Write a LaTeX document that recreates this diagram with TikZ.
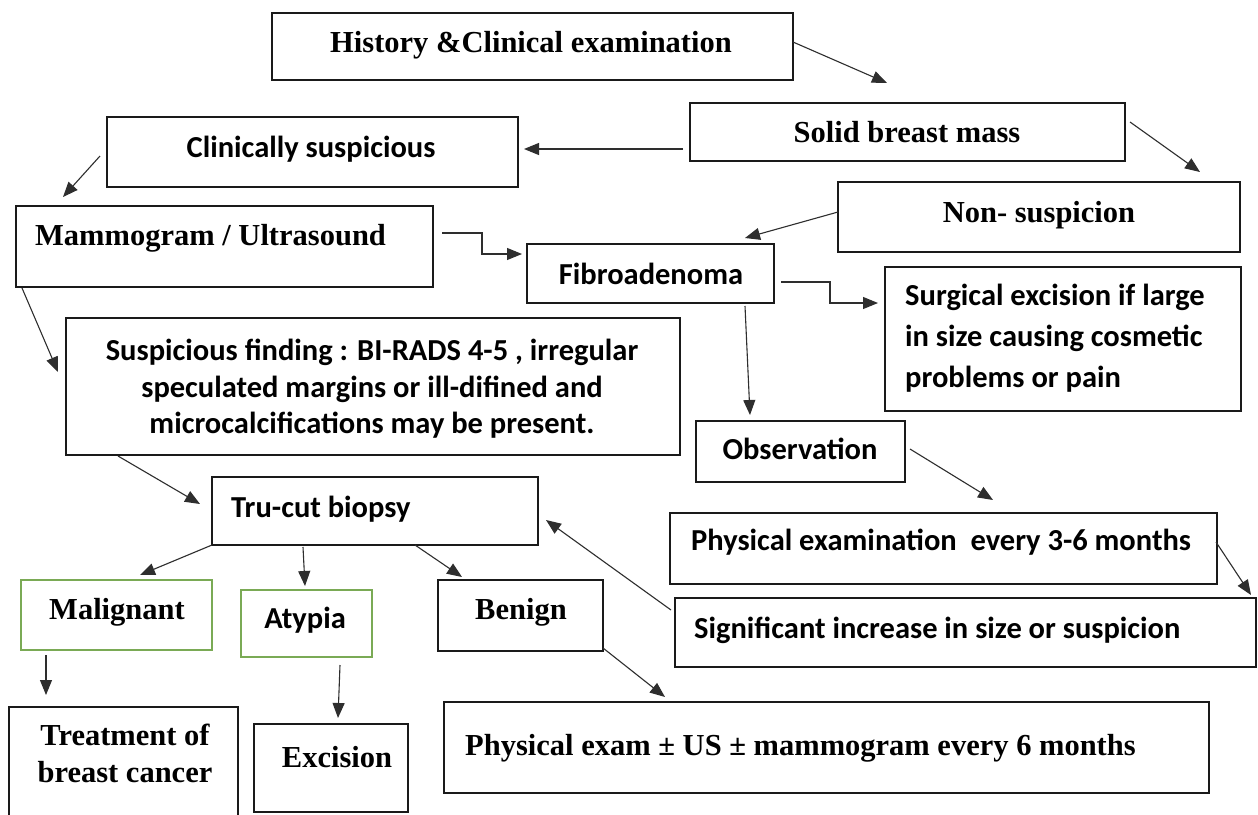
\documentclass[tikz,border=0pt]{standalone}
\usepackage{fontspec}
\setmainfont{Liberation Serif}
\newfontfamily\calfont{Carlito}
\usetikzlibrary{arrows.meta,calc}
\definecolor{boxline}{HTML}{1A1A1A}
\definecolor{arrline}{HTML}{2E2E2E}
\definecolor{grn}{HTML}{7AAA55}
\tikzset{
  box/.style={draw=boxline, line width=1.8pt, inner sep=0pt, outer sep=0pt},
  gbox/.style={draw=grn, line width=1.8pt, inner sep=0pt, outer sep=0pt},
  ser/.style={font=\fontsize{30.5}{36}\selectfont\bfseries, inner sep=0pt, anchor=base},
  serw/.style={ser, anchor=base west},
  san/.style={font=\fontsize{30.5}{36}\selectfont\calfont\bfseries, inner sep=0pt, anchor=base},
  sanw/.style={san, anchor=base west},
  arr/.style={draw=arrline, line width=1.1pt, -{Triangle[length=15pt,width=12pt]}},
}
\newcommand\boxat[6]{%
  \node[#1, minimum width={(#5)-(#3)}, minimum height={(#6)-(#4)}] (#2)
    at ({((#3)+(#5))/2},{((#4)+(#6))/2}) {};}
\begin{document}
\begin{tikzpicture}[x=1pt,y=-1pt]
\fill[white] (0,0) rectangle (1258,814);
\useasboundingbox (0,0) rectangle (1258,814);

% boxes
\boxat{box}{hist}{272}{13}{793}{80}
\boxat{box}{solid}{690}{103}{1125}{161}
\boxat{box}{clin}{107}{117}{518}{187}
\boxat{box}{mammo}{16}{206}{433}{287}
\boxat{box}{nons}{838}{182}{1240}{252}
\boxat{box}{fibro}{527}{244}{774}{303}
\boxat{box}{surg}{885}{267}{1241}{411}
\boxat{box}{susp}{66}{318}{680}{455}
\boxat{box}{obs}{696}{421}{905}{482}
\boxat{box}{tru}{212}{477}{538}{545}
\boxat{box}{physA}{670}{513}{1217}{584}
\boxat{box}{sig}{675}{598}{1256}{667}
\boxat{gbox}{mal}{21}{580}{212}{650}
\boxat{gbox}{aty}{241}{590}{372}{657}
\boxat{box}{ben}{438}{580}{603}{651}
\boxat{box}{treat}{9}{707}{238}{819}
\boxat{box}{exc}{254}{724}{408}{812}
\boxat{box}{physB}{444}{702}{1209}{793}

% texts
\node[ser]  (histT)  at (531,52)  {History \&Clinical examination};
\node[ser]  (solidT) at (907,142) {Solid breast mass};
\node[san]  (clinT)  at (311,157) {Clinically suspicious};
\node[serw] (mammoT) at (35,245)  {Mammogram / Ultrasound};
\node[ser]  (nonsT)  at (1039,222) {Non- suspicion};
\node[san]  (fibroT) at (651,284) {Fibroadenoma};
\node[sanw] (surgA)  at (905,305) {Surgical excision if large};
\node[sanw] (surgB)  at (905,346) {in size causing cosmetic};
\node[sanw] (surgC)  at (905,387) {problems or pain};
\node[san]  (suspA)  at (372,360) {Suspicious finding : BI-RADS 4-5 , irregular};
\node[san]  (suspB)  at (372,397) {speculated margins or ill-difined and};
\node[san]  (suspC)  at (372,433) {microcalcifications may be present.};
\node[san]  (obsT)   at (800,459) {Observation};
\node[sanw] (truT)   at (231,517) {Tru-cut biopsy};
\node[sanw] (physAT) at (691,550) {Physical examination~ every 3-6 months};
\node[sanw] (sigT)   at (694,638) {Significant increase in size or suspicion};
\node[ser]  (malT)   at (117,619) {Malignant};
\node[san]  (atyT)   at (305,628) {Atypia};
\node[ser]  (benT)   at (521,619) {Benign};
\node[ser]  (treatA) at (125,745) {Treatment of};
\node[ser]  (treatB) at (125,782) {breast cancer};
\node[ser]  (excT)   at (337,767) {Excision};
\node[serw] (physBT) at (465,755) {Physical exam ± US ± mammogram every 6 months};

% arrow tips
\coordinate (t1) at (887,83);
\coordinate (t2) at (524,149);
\coordinate (t3) at (1200,172);
\coordinate (t4) at (63,197);
\coordinate (t5) at (522,254);
\coordinate (t6) at (745,238);
\coordinate (t7) at (878,303);
\coordinate (t8) at (750,415);
\coordinate (t9) at (58,372);
\coordinate (t10) at (200,504);
\coordinate (t11) at (993,500);
\coordinate (t12) at (1251,595);
\coordinate (t13) at (546,520);
\coordinate (t14) at (140,575);
\coordinate (t15) at (305,586);
\coordinate (t16) at (462,577);
\coordinate (t17) at (46,695);
\coordinate (t18) at (338,718);
\coordinate (t19) at (665,697);

% connectors
\draw[arr] ($(hist.north east)+(0,29)$) -- (t1);
\draw[arr] ($(solid.south west)+(-7,-12)$) -- (t2);
\draw[arr] ($(solid.north east)+(5,19)$) -- (t3);
\draw[arr] ($(clin.north west)+(-7,39)$) -- (t4);
\draw[arr] ($(mammo.north east)+(9,27)$) -- ++(40,0) |- (t5);
\draw[arr] ($(nons.north west)+(0,30)$) -- (t6);
\draw[arr] ($(fibro.north east)+(7,38)$) -- ++(49,0) |- (t7);
\draw[arr] ($(fibro.south west)+(218,3)$) -- (t8);
\draw[arr] ($(mammo.south west)+(6,1)$) -- (t9);
\draw[arr] ($(susp.south west)+(52,1)$) -- (t10);
\draw[arr] ($(obs.north east)+(5,28)$) -- (t11);
\draw[arr] ($(physA.north east)+(-1,29)$) -- (t12);
\draw[arr] ($(sig.north west)+(-4,12)$) -- (t13);
\draw[arr] (tru.south west) -- (t14);
\draw[arr] ($(tru.south west)+(91,2)$) -- (t15);
\draw[arr] ($(tru.south west)+(203,0)$) -- (t16);
\draw[arr] ($(mal.south west)+(25,5)$) -- (t17);
\draw[arr] ($(aty.south west)+(99,8)$) -- (t18);
\draw[arr] ($(ben.south east)+(0,-3)$) -- (t19);
\end{tikzpicture}
\end{document}
